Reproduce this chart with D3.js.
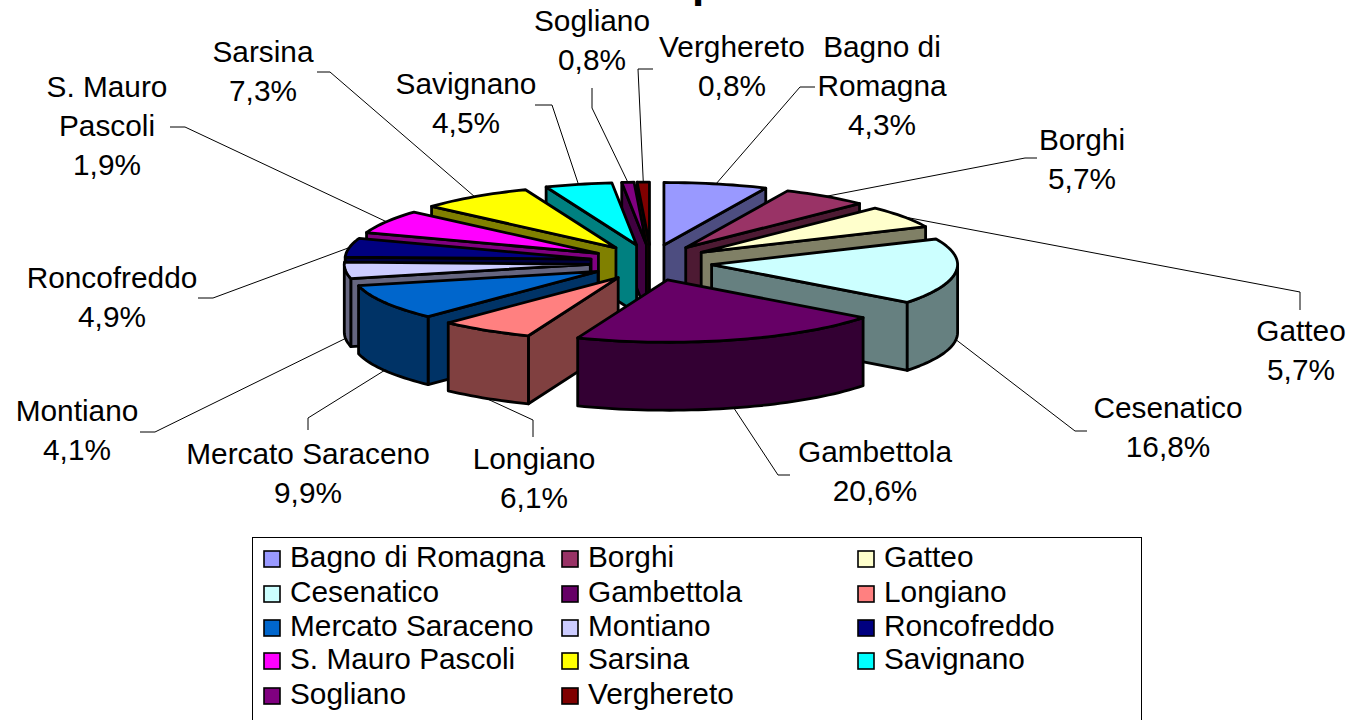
<!DOCTYPE html>
<html><head><meta charset="utf-8">
<script src="https://cdnjs.cloudflare.com/ajax/libs/d3/7.8.5/d3.min.js"></script>
<style>html,body{margin:0;padding:0;background:#fff;overflow:hidden}svg{display:block}
text{font-family:"Liberation Sans",Arial,sans-serif;fill:#000}</style></head><body>
<svg id="c" width="1352" height="720"></svg>
<script>
const names=["Bagno di Romagna","Borghi","Gatteo","Cesenatico","Gambettola","Longiano","Mercato Saraceno","Montiano","Roncofreddo","S. Mauro Pascoli","Sarsina","Savignano","Sogliano","Verghereto"];
// slice sizes as they appear in the drawn pie (percent)
const sliceShares=[6.8,5.7,5.8,17.1,20.6,6.2,9.2,4.2,4.9,6.1,7.5,4.4,0.8,0.8];
// percentages as printed on the labels
const printedPercents=["4,3%","5,7%","5,7%","16,8%","20,6%","6,1%","9,9%","4,1%","4,9%","1,9%","7,3%","4,5%","0,8%","0,8%"];
const colors=["#9999FF","#993366","#FFFFCC","#CCFFFF","#660066","#FF8080","#0066CC","#CCCCFF","#000080","#FF00FF","#FFFF00","#00FFFF","#800080","#800000"];
const labelNameLines=[["Bagno di","Romagna"],["Borghi"],["Gatteo"],["Cesenatico"],["Gambettola"],["Longiano"],["Mercato Saraceno"],["Montiano"],["Roncofreddo"],["S. Mauro","Pascoli"],["Sarsina"],["Savignano"],["Sogliano"],["Verghereto"]];
// layout: label centre (first line) and leader elbow points
const labelLayout=[
 {x:882,y:47,path:[[800,87],[815,87]]},
 {x:1082,y:140,path:[[1025,158],[1037,158]]},
 {x:1301,y:331,path:[[1300,292],[1300,310]]},
 {x:1168,y:408,path:[[1075,431],[1087,431]]},
 {x:875,y:452,path:[[778,475],[790,475]]},
 {x:534,y:459,path:[[533,420],[533,437]]},
 {x:308,y:454,path:[[308,418],[308,430]]},
 {x:77,y:411,path:[[155,432],[140,432]]},
 {x:112,y:278,path:[[213,298],[198,298]]},
 {x:107,y:87,path:[[185,127],[170,127]]},
 {x:263,y:52,path:[[330,72],[317,72]]},
 {x:466,y:84,path:[[552,105],[535,105]]},
 {x:592,y:21,path:[[592,108],[592,88]]},
 {x:732,y:47,path:[[638,69],[653,69]]}
];
const FS=29.8, LH=39;
const svg=d3.select("#c");
const cx=651,cy=262.5,rx=246,ry=62.4,ex=61,ey=18,depth=68;
const pie=d3.pie().sort(null).value(d=>d);
const arcs=pie(sliceShares).map((a,i)=>({...a,i,mid:(a.startAngle+a.endAngle)/2}));
const line=d3.line();
const pt=(a,m,dz=0)=>[cx+ex*Math.sin(m)+rx*Math.sin(a), cy-ey*Math.cos(m)-ry*Math.cos(a)+dz];
const apex=(m,dz=0)=>[cx+ex*Math.sin(m), cy-ey*Math.cos(m)+dz];
function arcPts(a0,a1,m,dz){const n=Math.max(2,Math.ceil((a1-a0)/0.03));return d3.range(n+1).map(k=>pt(a0+(a1-a0)*k/n,m,dz));}

// title (clipped by the top of the picture)
svg.append("text").attr("x",692).attr("y",-3).attr("font-size",44).attr("font-weight","bold").text("p");

// leaders
svg.append("g").selectAll("path").data(arcs).join("path")
 .attr("fill","none").attr("stroke","#000").attr("stroke-width",1)
 .attr("d",d=>{const front=Math.cos(d.mid)<0;const s=pt(d.mid,d.mid,front?depth:0);return line([s,...labelLayout[d.i].path]);});

// slices, back to front
const order=arcs.slice().sort((p,q)=>apex(p.mid)[1]-apex(q.mid)[1]);
const shade=c=>{const k=d3.rgb(c);return d3.rgb(k.r*.5,k.g*.5,k.b*.5).formatHex();};
const gs=svg.append("g").selectAll("g").data(order).join("g")
 .attr("stroke","#000").attr("stroke-width",2.8).attr("stroke-linejoin","round");
gs.each(function(d){
 const g=d3.select(this),a0=d.startAngle,a1=d.endAngle,m=d.mid,side=shade(colors[d.i]);
 const quad=a=>line([apex(m),pt(a,m),pt(a,m,depth),apex(m,depth)])+"Z";
 if(Math.sin(a0)<0) g.append("path").attr("fill",side).attr("d",quad(a0));
 if(Math.sin(a1)>0) g.append("path").attr("fill",side).attr("d",quad(a1));
 const f0=Math.max(a0,Math.PI/2),f1=Math.min(a1,1.5*Math.PI);
 if(f1>f0){const t=arcPts(f0,f1,m,0),b=arcPts(f0,f1,m,depth).reverse();
  g.append("path").attr("fill",side).attr("d",line([...t,...b])+"Z");}
 g.append("path").attr("fill",colors[d.i]).attr("d",line([apex(m),...arcPts(a0,a1,m,0)])+"Z");
});

// data labels
const lab=svg.append("g").selectAll("text").data(arcs).join("text")
 .attr("text-anchor","middle").attr("font-size",FS);
lab.each(function(d){
 const t=d3.select(this),l=labelLayout[d.i];
 [...labelNameLines[d.i],printedPercents[d.i]].forEach((s,k)=>{
  t.append("tspan").attr("x",l.x).attr("y",l.y+k*LH+10).text(s);
 });
});

// legend
svg.append("rect").attr("x",252.5).attr("y",537.5).attr("width",889).attr("height",190).attr("fill","none").attr("stroke","#000").attr("stroke-width",1);
const colX=[264,562,858], rowY=[559,594,628,661,696];
const leg=svg.append("g").selectAll("g").data(names).join("g")
 .attr("transform",(d,i)=>`translate(${colX[i%3]},${rowY[Math.floor(i/3)]})`);
leg.append("rect").attr("x",0).attr("y",-8).attr("width",16).attr("height",16)
 .attr("fill",(d,i)=>colors[i]).attr("stroke","#000").attr("stroke-width",1.6);
leg.append("text").attr("x",26).attr("y",8).attr("font-size",FS).text(d=>d);
</script></body></html>
